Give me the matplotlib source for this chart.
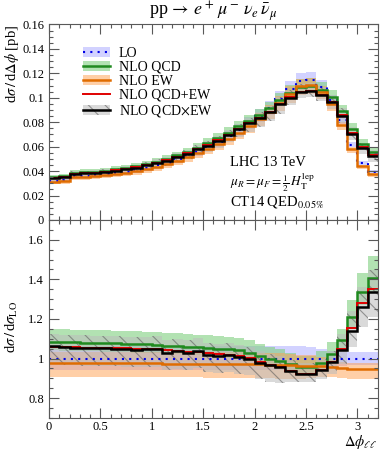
import numpy as np
import matplotlib
matplotlib.use('Agg')
import matplotlib.pyplot as plt
from matplotlib.patches import Patch
from matplotlib.lines import Line2D
from matplotlib.ticker import MultipleLocator

plt.rcParams['font.family'] = ['Liberation Serif', 'DejaVu Serif']
plt.rcParams['mathtext.fontset'] = 'stix'
plt.rcParams['hatch.linewidth'] = 0.8

# bin edges in delta phi
edges = np.round(np.arange(0, 3.21, 0.1), 2)

# LO cross section per bin [pb]
lo = np.array([0.0321, 0.0329, 0.0359, 0.0362, 0.0367, 0.0375, 0.0385, 0.0396,
               0.0410, 0.0427, 0.0446, 0.0470, 0.0497, 0.0527, 0.0560, 0.0597,
               0.0638, 0.0684, 0.0735, 0.0790, 0.0850, 0.0915, 0.0990, 0.1070,
               0.1135, 0.1145, 0.1090, 0.0985, 0.0818, 0.0614, 0.0464, 0.0395])

# ratios to LO
r_qcd = np.array([1.085, 1.083, 1.082, 1.080, 1.079, 1.078, 1.077, 1.075,
                  1.073, 1.072, 1.070, 1.066, 1.064, 1.060, 1.058, 1.054,
                  1.050, 1.046, 1.042, 1.030, 1.012, 0.998, 0.988, 0.972,
                  0.958, 0.958, 0.978, 1.022, 1.095, 1.210, 1.335, 1.409])
r_ew = np.array([0.976, 0.976, 0.976, 0.976, 0.976, 0.976, 0.976, 0.976,
                 0.976, 0.976, 0.976, 0.975, 0.975, 0.975, 0.975, 0.974,
                 0.974, 0.973, 0.973, 0.972, 0.971, 0.970, 0.968, 0.966,
                 0.965, 0.965, 0.963, 0.960, 0.952, 0.947, 0.946, 0.945])
r_add = np.array([1.061, 1.059, 1.058, 1.056, 1.055, 1.054, 1.053, 1.051,
                  1.049, 1.048, 1.046, 1.041, 1.039, 1.035, 1.033, 1.028,
                  1.024, 1.019, 1.015, 1.002, 0.983, 0.968, 0.956, 0.938,
                  0.923, 0.923, 0.941, 0.982, 1.047, 1.157, 1.281, 1.354])
r_mult = np.array([1.062, 1.058, 1.056, 1.054, 1.053, 1.051, 1.050, 1.048,
                   1.045, 1.047, 1.049, 1.030, 1.038, 1.030, 1.040, 1.020,
                   1.012, 1.018, 1.008, 1.000, 0.980, 0.966, 0.956, 0.936,
                   0.922, 0.924, 0.942, 0.981, 1.044, 1.140, 1.263, 1.336])

# relative scale uncertainties (up, down)
u_lo = np.array([0.065] * 23 + [0.063, 0.062, 0.058, 0.050, 0.040, 0.035, 0.033, 0.032, 0.032])
d_lo = np.array([0.060] * 23 + [0.060, 0.060, 0.056, 0.048, 0.040, 0.035, 0.033, 0.032, 0.032])
u_qcd = np.array([0.060] * 28 + [0.050, 0.070, 0.074, 0.076])
d_qcd = np.array([0.040] * 28 + [0.040, 0.050, 0.050, 0.050])
u_ew = np.array([0.060] * 23 + [0.058, 0.057, 0.054, 0.047, 0.038, 0.033, 0.032, 0.032, 0.032])
d_ew = np.array([0.072] * 23 + [0.070, 0.068, 0.066, 0.060, 0.055, 0.052, 0.051, 0.050, 0.050])
u_mult = np.array([0.060] * 28 + [0.075, 0.090, 0.080, 0.084])
d_mult = np.array([0.085] * 23 + [0.060, 0.046, 0.046, 0.050, 0.060, 0.070, 0.070, 0.080, 0.094])

c_lo, b_lo = '#0000e6', '#b4b4ff'
c_qcd, b_qcd = '#1f8a1f', '#7fcf7f'
c_ew, b_ew = '#e06c00', '#ffa050'
c_add = '#e00000'
c_mult, b_mult = 'black', '#bcbcbc'
hatch = '\\\\'

fig = plt.figure(figsize=(3.9, 4.51), dpi=100)
ax1 = fig.add_axes([0.1256, 0.5122, 0.8436, 0.4335])
ax2 = fig.add_axes([0.1256, 0.0732, 0.8436, 0.4390])

def draw(ax, vals):
    lo_v = vals['lo']
    ax.stairs(lo_v * (1 + u_lo), edges, baseline=lo_v * (1 - d_lo), fill=True,
              color=b_lo, alpha=0.6, lw=0)
    q = vals['qcd']
    ax.stairs(q * (1 + u_qcd), edges, baseline=q * (1 - d_qcd), fill=True,
              color=b_qcd, alpha=0.6, lw=0)
    e = vals['ew']
    ax.stairs(e * (1 + u_ew), edges, baseline=e * (1 - d_ew), fill=True,
              color=b_ew, alpha=0.5, lw=0)
    m = vals['mult']
    ax.stairs(m * (1 + u_mult), edges, baseline=m * (1 - d_mult), fill=True,
              facecolor=b_mult, edgecolor='#555555', hatch=hatch, alpha=0.55, lw=0)
    ax.stairs(lo_v, edges, color=c_lo, lw=1.5, ls=(0, (1, 2.5)), baseline=None)
    ax.stairs(q, edges, color=c_qcd, lw=1.8, baseline=None)
    ax.stairs(e, edges, color=c_ew, lw=1.8, baseline=None)
    ax.stairs(vals['add'], edges, color=c_add, lw=1.4, baseline=None)
    ax.stairs(m, edges, color=c_mult, lw=1.8, baseline=None)

absv = {'lo': lo, 'qcd': lo * r_qcd, 'ew': lo * r_ew, 'add': lo * r_add, 'mult': lo * r_mult}
ratv = {'lo': np.ones_like(lo), 'qcd': r_qcd, 'ew': r_ew, 'add': r_add, 'mult': r_mult}
draw(ax1, absv)
draw(ax2, ratv)

for ax in (ax1, ax2):
    ax.set_xlim(0, 3.2)
    ax.xaxis.set_major_locator(MultipleLocator(0.5))
    ax.xaxis.set_minor_locator(MultipleLocator(0.1))
    ax.tick_params(which='both', direction='in', top=True, right=True,
                   color='0.35', width=0.8, labelsize=9)
    ax.tick_params(which='major', length=7)
    ax.tick_params(which='minor', length=3.2)
    for s in ax.spines.values():
        s.set_color('0.35')
        s.set_linewidth(0.8)

ax1.set_ylim(0, 0.16)
ax1.yaxis.set_minor_locator(MultipleLocator(0.005))
ax1.set_yticks([0, 0.02, 0.04, 0.06, 0.08, 0.1, 0.12, 0.14, 0.16])
ax1.set_yticklabels(['0', '0.02', '0.04', '0.06', '0.08', '0.1', '0.12', '0.14', '0.16'])
ax1.tick_params(labelbottom=False)

ax2.set_ylim(0.7, 1.7)
ax2.set_yticks([0.8, 1.0, 1.2, 1.4, 1.6])
ax2.set_yticklabels(['0.8', '1', '1.2', '1.4', '1.6'])
ax2.yaxis.set_minor_locator(MultipleLocator(0.05))
ax2.set_xticks([0, 0.5, 1, 1.5, 2, 2.5, 3])
ax2.set_xticklabels(['0', '0.5', '1', '1.5', '2', '2.5', '3'])
ax2.tick_params(axis='x', pad=2.5)

fig.text(0.547, 1 - 12 / 451, r'pp$\,\rightarrow\,e^+\,\mu^-\,\nu_e\,\bar{\nu}_\mu$',
         ha='center', va='center', fontsize=13)
fig.text(12 / 390, 1 - 25 / 451, r'd$\sigma\,/\,$d$\Delta\phi$ [pb]', rotation=90,
         ha='center', va='top', fontsize=10.5)
fig.text(12 / 390, 1 - 327 / 451, r'd$\sigma\,/\,$d$\sigma_{\mathrm{LO}}$', rotation=90,
         ha='center', va='center', fontsize=10.5)
fig.text(378 / 390, 1 - 433 / 451, r'$\Delta\phi_{\ell\ell}$', ha='right', va='top',
         fontsize=10.5)

ax1.text(0.55, 0.275, 'LHC 13 TeV', transform=ax1.transAxes, fontsize=10.5, va='baseline')
ax1.text(0.55, 0.172, r'$\mu_R=\mu_F=\frac{1}{2}\,H_{\mathrm{T}}^{\mathrm{lep}}$',
         transform=ax1.transAxes, fontsize=9.5, va='baseline')
ax1.text(0.55, 0.072, r'CT14 QED$_{0.05\%}$', transform=ax1.transAxes, fontsize=10.5,
         va='baseline')

handles = [
    (Patch(facecolor=b_lo, alpha=0.6, lw=0), Line2D([], [], color=c_lo, lw=1.5, ls=(0, (1, 2.5)))),
    (Patch(facecolor=b_qcd, alpha=0.6, lw=0), Line2D([], [], color=c_qcd, lw=1.8)),
    (Patch(facecolor=b_ew, alpha=0.5, lw=0), Line2D([], [], color=c_ew, lw=1.8)),
    Line2D([], [], color=c_add, lw=1.4),
    (Patch(facecolor=b_mult, edgecolor='#555555', hatch=hatch, alpha=0.55, lw=0),
     Line2D([], [], color=c_mult, lw=1.8)),
]
labels = ['LO', 'NLO QCD', 'NLO EW', 'NLO QCD+EW', r'NLO QCD$\times$EW']
ax1.legend(handles, labels, loc='upper left', bbox_to_anchor=(0.085, 0.915),
           frameon=False, fontsize=10, handlelength=2.0, handletextpad=0.6,
           labelspacing=0.08, borderaxespad=0)

fig.savefig('out.png', dpi=100)
